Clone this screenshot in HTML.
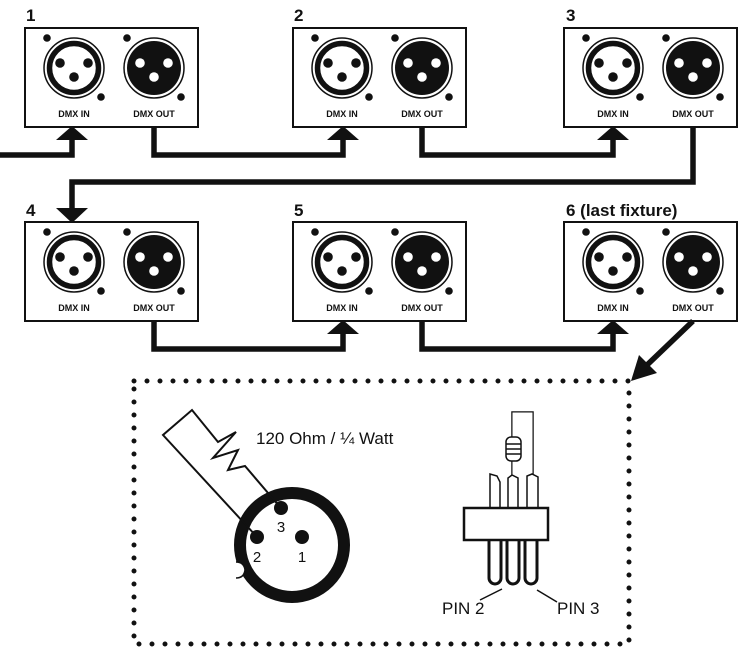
<!DOCTYPE html>
<html><head><meta charset="utf-8"><style>
html,body{margin:0;padding:0;background:#fff;}
svg{display:block;}
text{font-family:"Liberation Sans",Arial,sans-serif;fill:#111;}
</style></head><body>
<svg width="742" height="655" viewBox="0 0 742 655" xmlns="http://www.w3.org/2000/svg">
<defs>
<g id="unit">
  <rect x="0" y="0" width="173" height="99" fill="#fff" stroke="#111" stroke-width="2"/>
  <circle cx="49" cy="40" r="30" fill="none" stroke="#111" stroke-width="1.5"/>
  <circle cx="49" cy="40" r="24.5" fill="#fff" stroke="#111" stroke-width="5.5"/>
  <circle cx="35" cy="35" r="4.8" fill="#111"/>
  <circle cx="63" cy="35" r="4.8" fill="#111"/>
  <circle cx="49" cy="49" r="4.8" fill="#111"/>
  <circle cx="22" cy="10" r="3.8" fill="#111"/>
  <circle cx="76" cy="69" r="3.8" fill="#111"/>
  <circle cx="129" cy="40" r="30" fill="none" stroke="#111" stroke-width="1.5"/>
  <circle cx="129" cy="40" r="27" fill="#111"/>
  <circle cx="115" cy="35" r="4.8" fill="#fff"/>
  <circle cx="143" cy="35" r="4.8" fill="#fff"/>
  <circle cx="129" cy="49" r="4.8" fill="#fff"/>
  <circle cx="102" cy="10" r="3.8" fill="#111"/>
  <circle cx="156" cy="69" r="3.8" fill="#111"/>
  <text x="49" y="89" font-size="9" font-weight="bold" text-anchor="middle">DMX IN</text>
  <text x="129" y="89" font-size="9" font-weight="bold" text-anchor="middle">DMX OUT</text>
</g>
</defs>

<g font-size="17" font-weight="bold">
<text x="26" y="21">1</text>
<text x="294" y="21">2</text>
<text x="566" y="21">3</text>
<text x="26" y="216">4</text>
<text x="294" y="216">5</text>
<text x="566" y="216">6 (last fixture)</text>
</g>

<use href="#unit" x="25" y="28"/>
<use href="#unit" x="293" y="28"/>
<use href="#unit" x="564" y="28"/>
<use href="#unit" x="25" y="222"/>
<use href="#unit" x="293" y="222"/>
<use href="#unit" x="564" y="222"/>

<g fill="none" stroke="#111" stroke-width="5.5" stroke-linejoin="miter">
  <polyline points="0,155 72,155 72,136"/>
  <polyline points="154,127 154,155 343,155 343,136"/>
  <polyline points="422,127 422,155 613,155 613,136"/>
  <polyline points="693,127 693,182 72,182 72,210"/>
  <polyline points="154,321 154,349 343,349 343,330"/>
  <polyline points="422,321 422,349 613,349 613,330"/>
  <polyline points="693,321 647,365"/>
</g>
<g fill="#111">
  <polygon points="72,126 56,140 88,140"/>
  <polygon points="343,126 327,140 359,140"/>
  <polygon points="613,126 597,140 629,140"/>
  <polygon points="72,223 56,208 88,208"/>
  <polygon points="343,320 327,334 359,334"/>
  <polygon points="613,320 597,334 629,334"/>
  <polygon points="631,381 639,355 657,373"/>
</g>

<rect x="134" y="381" width="495" height="263" fill="none" stroke="#111" stroke-width="5" stroke-linecap="round" stroke-dasharray="0 13"/>

<circle cx="292" cy="545" r="52" fill="none" stroke="#111" stroke-width="12"/>
<path d="M236,562 q8,0 9,8 q-1,8 -9,8" fill="#fff" stroke="#111" stroke-width="1.5"/>
<g fill="none" stroke="#111" stroke-width="2" stroke-linejoin="miter">
  <polyline points="257,537 163,435 192,410 218,442 236,432 213,458 238,450 228,470 245,466 280,507"/>
</g>
<circle cx="281" cy="508" r="7" fill="#111"/>
<circle cx="257" cy="537" r="7" fill="#111"/>
<circle cx="302" cy="537" r="7" fill="#111"/>
<text x="281" y="532" font-size="15" text-anchor="middle">3</text>
<text x="257" y="562" font-size="15" text-anchor="middle">2</text>
<text x="302" y="562" font-size="15" text-anchor="middle">1</text>
<text x="256" y="444" font-size="17">120 Ohm / ¼ Watt</text>

<g fill="#fff" stroke="#111" stroke-width="1.5">
  <polyline points="513,482 513,413 532,413 532,482" stroke-width="3.5"/>
  <polyline points="513,482 513,413 532,413 532,482" stroke="#fff" stroke-width="1"/>
  <rect x="506" y="437" width="15" height="24" rx="5"/>
  <line x1="506" y1="444" x2="521" y2="444"/><line x1="506" y1="449" x2="521" y2="449"/><line x1="506" y1="454" x2="521" y2="454"/>
  <path d="M490,508 V474 L497,476 L500,482 V508 Z"/>
  <path d="M508,508 V478 L512,475 L518,478 V508 Z"/>
  <path d="M527,508 V476 L532,474 L538,477 V508 Z"/>
  <path d="M489,540 V578 a6,6 0 0 0 12,0 V540" stroke-width="3"/>
  <path d="M507,540 V578 a6,6 0 0 0 12,0 V540" stroke-width="3"/>
  <path d="M525,540 V578 a6,6 0 0 0 12,0 V540" stroke-width="3"/>
  <rect x="464" y="508" width="84" height="32" stroke-width="2.5"/>
</g>
<g stroke="#111" stroke-width="1.5">
  <line x1="480" y1="600" x2="502" y2="589"/>
  <line x1="537" y1="590" x2="557" y2="602"/>
</g>
<text x="442" y="614" font-size="17">PIN 2</text>
<text x="557" y="614" font-size="17">PIN 3</text>
</svg>
</body></html>
